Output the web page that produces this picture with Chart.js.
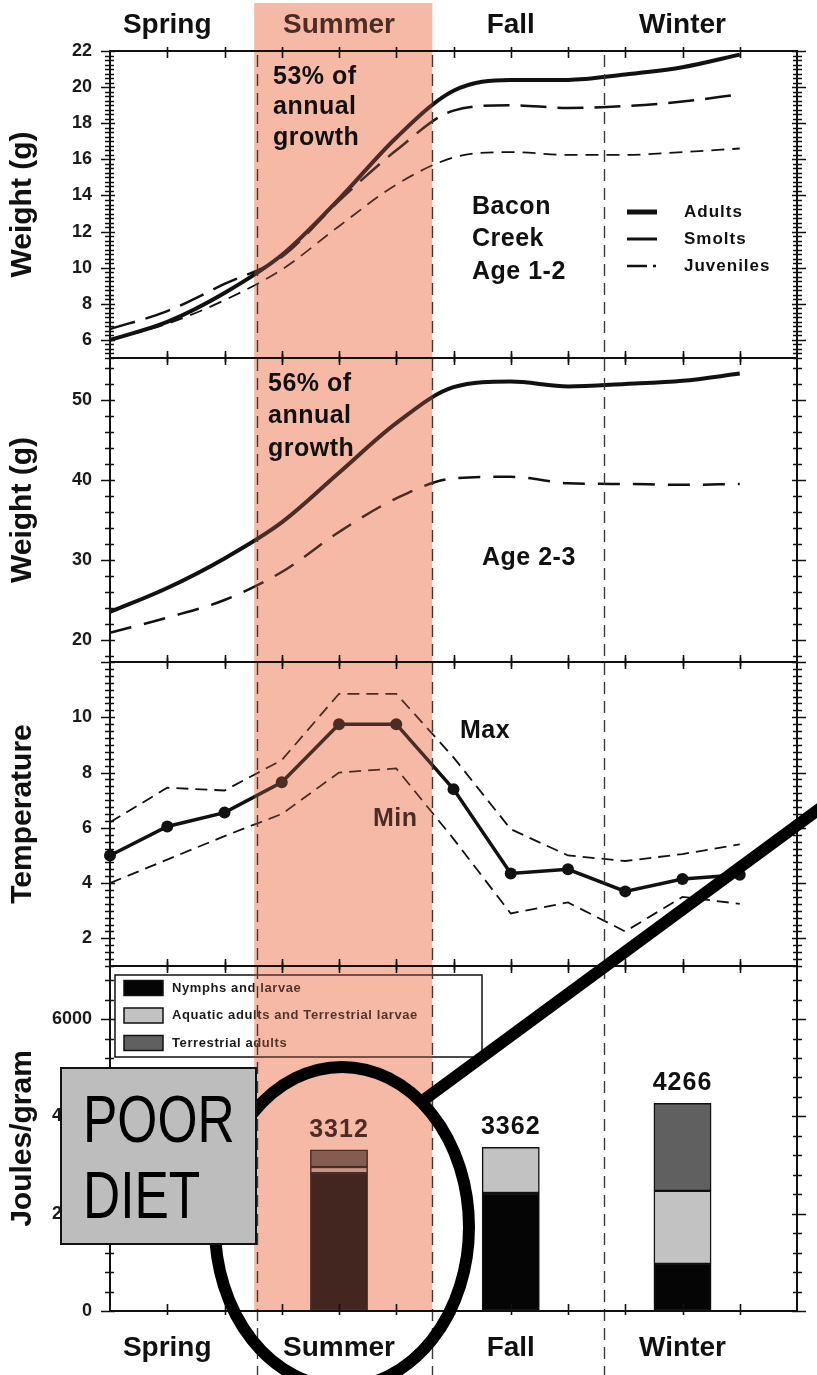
<!DOCTYPE html>
<html>
<head>
<meta charset="utf-8">
<script src="https://cdn.jsdelivr.net/npm/chart.js@4.4.1/dist/chart.umd.min.js"></script>
<style>
  html, body { margin: 0; padding: 0; background: #ffffff; }
  #wrap { position: relative; width: 817px; height: 1375px; }
</style>
</head>
<body>
<div id="wrap"><canvas id="c" width="817" height="1375"></canvas></div>
<script>
// ---------------- DATA ----------------
const monthIndex = [0, 1, 2, 3, 4, 5, 6, 7, 8, 9, 10, 11];
const seasons = ['Spring', 'Summer', 'Fall', 'Winter'];
const seasonCentreMonth = [1, 4, 7, 10];
const seasonBoundaries = [2.57, 5.62, 8.63];
const summerSpan = [2.52, 5.63];

// tick labels per panel
const weight12Ticks = [6, 8, 10, 12, 14, 16, 18, 20, 22];
const weight23Ticks = [20, 30, 40, 50];
const tempTicks = [2, 4, 6, 8, 10];
const joulesTicks = [0, 2000, 4000, 6000];

// Bacon Creek, Age 1-2 weights (g)
const adults12    = [6.0, 7.0, 8.6, 10.7, 13.8, 17.2, 19.8, 20.4, 20.4, 20.7, 21.1, 21.8];
const smolts12    = [6.6, 7.6, 9.1, 10.6, 13.7, 16.5, 18.7, 19.0, 18.85, 18.95, 19.2, 19.6];
const juveniles12 = [6.0, 6.9, 8.2, 9.9, 12.3, 14.6, 16.1, 16.4, 16.25, 16.25, 16.4, 16.6];

// Age 2-3 weights (g)
const adults23 = [23.5, 26.5, 30.2, 34.7, 40.9, 47.1, 51.6, 52.3, 51.7, 52.0, 52.4, 53.3];
const smolts23 = [20.9, 22.8, 25.0, 28.5, 33.5, 37.7, 40.2, 40.4, 39.6, 39.5, 39.4, 39.5];

// Temperature
const tempMean = [5.0, 6.05, 6.55, 7.65, 9.75, 9.75, 7.4, 4.35, 4.5, 3.7, 4.15, 4.3];
const tempMax  = [6.2, 7.45, 7.35, 8.45, 10.85, 10.85, 8.55, 5.95, 5.0, 4.8, 5.05, 5.4];
const tempMin  = [4.0, 4.85, 5.7, 6.5, 8.0, 8.15, 5.6, 2.9, 3.3, 2.25, 3.5, 3.25];

// Diet energy (Joules/gram) by season
const dietSeasonMonth = [4, 7, 10];
const nymphsLarvae      = [2830, 2425, 970];
const aquaticTerrLarvae = [130, 937, 1500];
const terrestrialAdults = [352, 0, 1796];

// ---------------- HELPERS ----------------
const FONT = "'Liberation Sans', Arial, Helvetica, sans-serif";
Chart.defaults.font.family = FONT;
Chart.defaults.color = '#111';

const series = (arr) => arr.map((v, i) => ({ x: monthIndex[i], y: v }));
const bars = (arr) => arr.map((v, i) => ({ x: dietSeasonMonth[i], y: v }));
const seasonTick = (v) => { const k = seasonCentreMonth.indexOf(v); return k >= 0 ? seasons[k] : ''; };

function xAxis(position, pad, h) {
  return {
    type: 'linear', position: position, min: 0, max: 12, offset: false,
    grid: { display: false, drawTicks: false }, border: { display: false },
    ticks: { stepSize: 1, autoSkip: false, maxRotation: 0, padding: pad,
             font: { size: 28, weight: 'bold' }, color: '#111', callback: seasonTick },
    afterFit: (s) => { s.height = h; }
  };
}
function yAxis(title, min, max, tickList, stackWeight, order) {
  return {
    type: 'linear', position: 'left', stack: 'panels', stackWeight: stackWeight, weight: order,
    min: min, max: max, offset: false,
    grid: { display: false, drawTicks: false }, border: { display: false },
    ticks: { autoSkip: false, padding: 18, callback: (v) => String(v),
             font: { size: 18, weight: 'bold' }, color: '#1a1a1a' },
    afterBuildTicks: (s) => { s.ticks = tickList.map((v) => ({ value: v })); },
    title: { display: true, text: title, color: '#111',
             font: { size: 30, weight: 'bold' }, padding: { top: 5, bottom: 0 } },
    afterFit: (s) => { s.width = 110; }
  };
}

// per panel minor / major tick steps (for drawn tick marks)
const panelTicks = { y1: [0.25, 2], y2: [2, 10], y3: [0.25, 2], y4: [400, 2000] };

const decor = {
  id: 'decor',
  afterDatasetsDraw(chart) {
    const ctx = chart.ctx;
    const ca = chart.chartArea;
    const xs = chart.scales.x;
    const S = chart.scales;
    const ds = chart.data.datasets;
    const ls = (v) => { try { ctx.letterSpacing = v; } catch (e) {} };

    ctx.save();
    // ---- bar totals ----
    ctx.fillStyle = '#111';
    ctx.font = 'bold 25px ' + FONT;
    ctx.textAlign = 'center';
    ctx.textBaseline = 'alphabetic';
    ls('1px');
    dietSeasonMonth.forEach((m, i) => {
      const total = nymphsLarvae[i] + aquaticTerrLarvae[i] + terrestrialAdults[i];
      const px = xs.getPixelForValue(m);
      const py = S.y4.getPixelForValue(total);
      ctx.fillText(String(total), px, py - 13);
    });

    // ---- panel text labels (under the summer tint) ----
    ctx.textAlign = 'left';
    ctx.textBaseline = 'middle';
    ctx.font = 'bold 25px ' + FONT;
    ls('0.5px');
    ['Bacon', 'Creek', 'Age 1-2'].forEach((t, i) => ctx.fillText(t, 472, 207 + i * 32.5));
    ctx.fillText('Age 2-3', 482, 558);
    ctx.fillText('Max', 460, 731);
    ctx.fillText('Min', 373, 819);

    // ---- legend panel 1 ----
    ctx.font = 'bold 17px ' + FONT;
    ls('1px');
    [0, 1, 2].forEach((k, i) => {
      const y = 212 + i * 27;
      ctx.save();
      ctx.strokeStyle = '#111';
      ctx.lineWidth = ds[k].borderWidth + (k === 0 ? 1 : 0.5);
      ctx.setLineDash(k === 2 ? [20, 6, 3, 6] : []);
      ctx.beginPath(); ctx.moveTo(627, y); ctx.lineTo(k === 2 ? 659 : 657, y); ctx.stroke();
      ctx.restore();
      ctx.fillStyle = '#111';
      ctx.fillText(ds[k].label, 684, y);
    });

    // ---- legend panel 4 ----
    ctx.fillStyle = '#ffffff';
    ctx.fillRect(115, 975, 367, 82);
    ctx.strokeStyle = '#111'; ctx.lineWidth = 1.5;
    ctx.strokeRect(115, 975, 367, 82);
    ctx.font = 'bold 13px ' + FONT;
    ls('0.6px');
    [8, 9, 10].forEach((k, i) => {
      const y = 988 + i * 27.5;
      ctx.fillStyle = ds[k].backgroundColor;
      ctx.fillRect(124, y - 7.5, 39, 15);
      ctx.strokeStyle = '#111'; ctx.lineWidth = 1.5;
      ctx.strokeRect(124, y - 7.5, 39, 15);
      ctx.fillStyle = '#1a1a1a';
      ctx.fillText(ds[k].label, 172, y);
    });
    ls('0px');

    // ---- summer tint ----
    const sx0 = xs.getPixelForValue(summerSpan[0]);
    const sx1 = xs.getPixelForValue(summerSpan[1]);
    ctx.save();
    ctx.globalCompositeOperation = 'multiply';
    ctx.fillStyle = 'rgb(245, 201, 185)';
    ctx.fillRect(sx0, 3, sx1 - sx0, ca.bottom - 3);
    ctx.restore();
    ctx.fillStyle = 'rgba(250, 140, 110, 0.25)';
    ctx.fillRect(sx0, 3, sx1 - sx0, ca.bottom - 3);

    // ---- season boundary dashed lines ----
    ctx.strokeStyle = '#3a3a3a'; ctx.lineWidth = 1.4;
    ctx.setLineDash([12, 7]);
    seasonBoundaries.forEach((b) => {
      const px = Math.round(xs.getPixelForValue(b)) + 0.5;
      ctx.beginPath(); ctx.moveTo(px, ca.top + 4); ctx.lineTo(px, chart.height); ctx.stroke();
    });
    ctx.setLineDash([]);

    // ---- panel frames and tick marks ----
    ctx.strokeStyle = '#111';
    ['y1', 'y2', 'y3', 'y4'].forEach((id) => {
      const sc = S[id];
      const [minor, major] = panelTicks[id];
      ctx.lineWidth = 2;
      ctx.strokeRect(ca.left, sc.top, ca.right - ca.left, sc.bottom - sc.top);
      ctx.lineWidth = 1.6;
      const start = Math.ceil(sc.min / minor - 1e-9) * minor;
      for (let v = start; v <= sc.max + 1e-9; v += minor) {
        const py = Math.round(sc.getPixelForValue(v)) + 0.5;
        const isMaj = Math.abs(v / major - Math.round(v / major)) < 1e-6;
        const out = isMaj ? 9 : 5, inn = isMaj ? 5 : 4;
        ctx.beginPath();
        ctx.moveTo(ca.left - out, py); ctx.lineTo(ca.left + inn, py);
        ctx.moveTo(ca.right - inn, py); ctx.lineTo(ca.right + out, py);
        ctx.stroke();
      }
      for (let m = 1; m <= 11; m++) {
        const px = Math.round(xs.getPixelForValue(m)) + 0.5;
        ctx.beginPath();
        ctx.moveTo(px, sc.top - 4); ctx.lineTo(px, sc.top + 7);
        ctx.moveTo(px, sc.bottom - 7); ctx.lineTo(px, sc.bottom + 4);
        ctx.stroke();
      }
    });

    // ---- growth annotations (above the tint) ----
    ctx.fillStyle = '#111';
    ctx.font = 'bold 25px ' + FONT;
    ctx.textAlign = 'left'; ctx.textBaseline = 'middle';
    ls('0.5px');
    ['53% of', 'annual', 'growth'].forEach((t, i) => ctx.fillText(t, 273, 77 + i * 30.5));
    ['56% of', 'annual', 'growth'].forEach((t, i) => ctx.fillText(t, 268, 384 + i * 32.5));
    ls('0px');

    // ---- callout ellipse and pointer ----
    ctx.strokeStyle = '#000'; ctx.lineWidth = 12;
    ctx.beginPath();
    ctx.ellipse(342, 1227, 127, 160, 0, 0, Math.PI * 2);
    ctx.stroke();
    ctx.beginPath(); ctx.moveTo(421, 1102); ctx.lineTo(845, 790); ctx.stroke();

    // ---- POOR DIET box ----
    ctx.fillStyle = '#bdbdbd';
    ctx.fillRect(61, 1068, 195, 176);
    ctx.strokeStyle = '#111'; ctx.lineWidth = 2;
    ctx.strokeRect(61, 1068, 195, 176);
    ctx.fillStyle = '#000';
    ctx.textBaseline = 'alphabetic';
    ctx.save();
    ctx.translate(83, 0); ctx.scale(0.78, 1);
    ctx.font = '66px ' + FONT;
    ctx.fillText('POOR', 0, 1142);
    ctx.fillText('DIET', 0, 1218);
    ctx.restore();

    ctx.restore();
  }
};

const lineBase = { pointRadius: 0, fill: false, borderColor: '#111', cubicInterpolationMode: 'monotone', borderCapStyle: 'butt', clip: false };

new Chart(document.getElementById('c'), {
  type: 'line',
  data: {
    datasets: [
      Object.assign({}, lineBase, { label: 'Adults', data: series(adults12), yAxisID: 'y1', borderWidth: 4 }),
      Object.assign({}, lineBase, { label: 'Smolts', data: series(smolts12), yAxisID: 'y1', borderWidth: 2.5, borderDash: [26, 11] }),
      Object.assign({}, lineBase, { label: 'Juveniles', data: series(juveniles12), yAxisID: 'y1', borderWidth: 1.8, borderDash: [13, 8] }),
      Object.assign({}, lineBase, { label: 'Adults (Age 2-3)', data: series(adults23), yAxisID: 'y2', borderWidth: 4 }),
      Object.assign({}, lineBase, { label: 'Smolts (Age 2-3)', data: series(smolts23), yAxisID: 'y2', borderWidth: 2.5, borderDash: [22, 13] }),
      Object.assign({}, lineBase, { label: 'Max', data: series(tempMax), yAxisID: 'y3', borderWidth: 1.8, borderDash: [12, 7], cubicInterpolationMode: 'default', tension: 0 }),
      Object.assign({}, lineBase, { label: 'Min', data: series(tempMin), yAxisID: 'y3', borderWidth: 1.8, borderDash: [12, 7], cubicInterpolationMode: 'default', tension: 0 }),
      Object.assign({}, lineBase, { label: 'Mean', data: series(tempMean), yAxisID: 'y3', borderWidth: 3.5, cubicInterpolationMode: 'default', tension: 0,
        pointRadius: 6, pointBackgroundColor: '#111', pointBorderWidth: 0 }),
      { type: 'bar', label: 'Nymphs and larvae', data: bars(nymphsLarvae), yAxisID: 'y4', xAxisID: 'x', stack: 'diet',
        backgroundColor: '#050505', borderColor: '#111', borderWidth: 1.5, borderSkipped: false, categoryPercentage: 1, barPercentage: 1 },
      { type: 'bar', label: 'Aquatic adults and Terrestrial larvae', data: bars(aquaticTerrLarvae), yAxisID: 'y4', xAxisID: 'x', stack: 'diet',
        backgroundColor: '#c2c2c2', borderColor: '#111', borderWidth: 1.5, borderSkipped: false, categoryPercentage: 1, barPercentage: 1 },
      { type: 'bar', label: 'Terrestrial adults', data: bars(terrestrialAdults), yAxisID: 'y4', xAxisID: 'x', stack: 'diet',
        backgroundColor: '#606060', borderColor: '#111', borderWidth: 1.5, borderSkipped: false, categoryPercentage: 1, barPercentage: 1 }
    ]
  },
  options: {
    responsive: false,
    animation: false,
    devicePixelRatio: 1,
    events: [],
    layout: { padding: { left: 0, right: 17, top: 0, bottom: 0 } },
    plugins: { legend: { display: false }, tooltip: { enabled: false } },
    scales: {
      x: xAxis('bottom', 20, 64),
      xTop: xAxis('top', 9, 51),
      y1: yAxis('Weight (g)', 5, 22, weight12Ticks, 307, 4),
      y2: yAxis('Weight (g)', 17.25, 55.25, weight23Ticks, 304, 3),
      y3: yAxis('Temperature', 1, 12, tempTicks, 304, 2),
      y4: Object.assign(yAxis('Joules/gram', 0, 7090, joulesTicks, 345, 1), { stacked: true })
    }
  },
  plugins: [decor]
});
</script>
</body>
</html>
